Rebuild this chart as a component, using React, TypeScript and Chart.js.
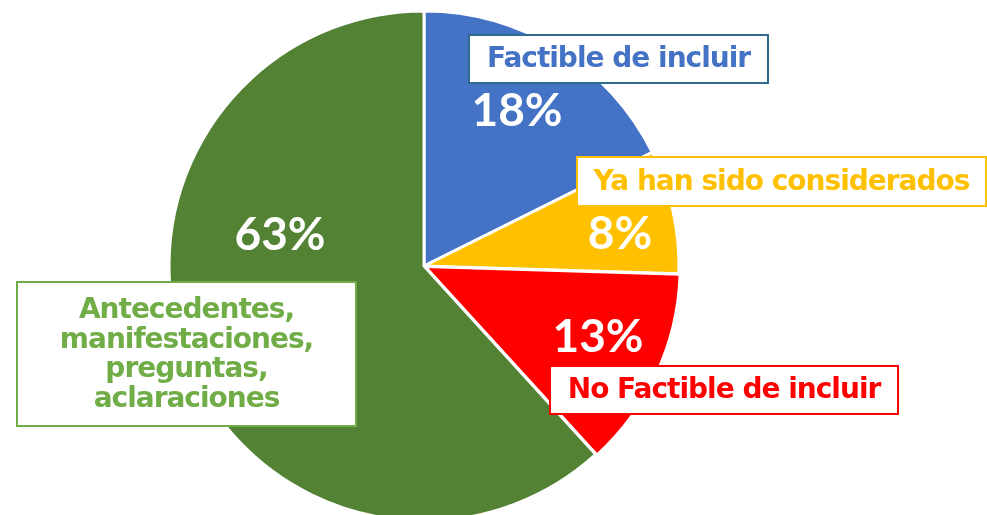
import React, { useEffect, useRef } from "react";
import { Chart, registerables } from "chart.js";

Chart.register(...registerables);

const categories = [
  "Factible de incluir",
  "Ya han sido considerados",
  "No Factible de incluir",
  "Antecedentes, manifestaciones, preguntas, aclaraciones",
];
const values = [18, 8, 13, 63];
const sliceColors = ["#4472C4", "#FFC000", "#FF0000", "#548235"];
const sliceOffsets = [0, 0, 4, 0];

// percentage label placement, relative to pie centre
const pctOffsets = [
  [93, -155],
  [196, -32],
  [174, 71],
  [-144, -31],
];

// callout boxes (absolute page layout)
const boxes = [
  { x: 469, y: 35, w: 299, h: 48, lines: ["Factible de incluir"], text: "#4472C4", border: "#2E6B8E" },
  { x: 577, y: 157, w: 409, h: 49, lines: ["Ya han sido considerados"], text: "#FFC000", border: "#FFC000" },
  { x: 550, y: 366, w: 348, h: 48, lines: ["No Factible de incluir"], text: "#FF0000", border: "#FF0000" },
  {
    x: 17, y: 282, w: 339, h: 144,
    lines: ["Antecedentes,", "manifestaciones,", "preguntas,", "aclaraciones"],
    text: "#70AD47", border: "#70AD47",
  },
];

const labelPlugin = {
  id: "calloutLabels",
  afterDatasetsDraw(chart: any) {
    const ctx = chart.ctx as CanvasRenderingContext2D;
    const area = chart.chartArea;
    const cx = (area.left + area.right) / 2;
    const cy = (area.top + area.bottom) / 2;
    ctx.save();
    ctx.textAlign = "center";
    ctx.textBaseline = "middle";
    ctx.fillStyle = "#FFFFFF";
    ctx.font = "bold 46px Lato";
    values.forEach((v, i) => {
      ctx.fillText(v + "%", cx + pctOffsets[i][0], cy + pctOffsets[i][1]);
    });
    boxes.forEach((b) => {
      ctx.fillStyle = "#FFFFFF";
      ctx.fillRect(b.x, b.y, b.w, b.h);
      ctx.lineWidth = 2;
      ctx.strokeStyle = b.border;
      ctx.strokeRect(b.x, b.y, b.w, b.h);
      ctx.fillStyle = b.text;
      ctx.font = "bold 28px 'DejaVu Sans'";
      (ctx as any).letterSpacing = "-1px";
      const lh = 29.5;
      const startY = b.y + b.h / 2 - ((b.lines.length - 1) * lh) / 2 + 1;
      b.lines.forEach((ln, k) => {
        ctx.fillText(ln, b.x + b.w / 2, startY + k * lh);
      });
      (ctx as any).letterSpacing = "0px";
    });
    ctx.restore();
  },
};

export default function App() {
  const ref = useRef<HTMLCanvasElement>(null);
  useEffect(() => {
    if (!ref.current) return;
    const chart = new Chart(ref.current, {
      type: "pie",
      data: {
        labels: categories,
        datasets: [
          {
            data: values,
            backgroundColor: sliceColors,
            borderColor: "#FFFFFF",
            borderWidth: 3,
            offset: sliceOffsets,
            radius: 255,
            clip: false,
          } as any,
        ],
      },
      options: {
        animation: false,
        responsive: false,
        layout: { padding: { left: 0, right: 139, top: 17, bottom: 0 } },
        plugins: {
          legend: { display: false },
          tooltip: { enabled: false },
        },
      },
      plugins: [labelPlugin],
    });
    return () => chart.destroy();
  }, []);
  return (
    <div style={{ position: "fixed", left: 0, top: 0, width: 987, height: 515, overflow: "hidden", background: "#fff" }}>
      <canvas ref={ref} width={987} height={515} />
    </div>
  );
}
